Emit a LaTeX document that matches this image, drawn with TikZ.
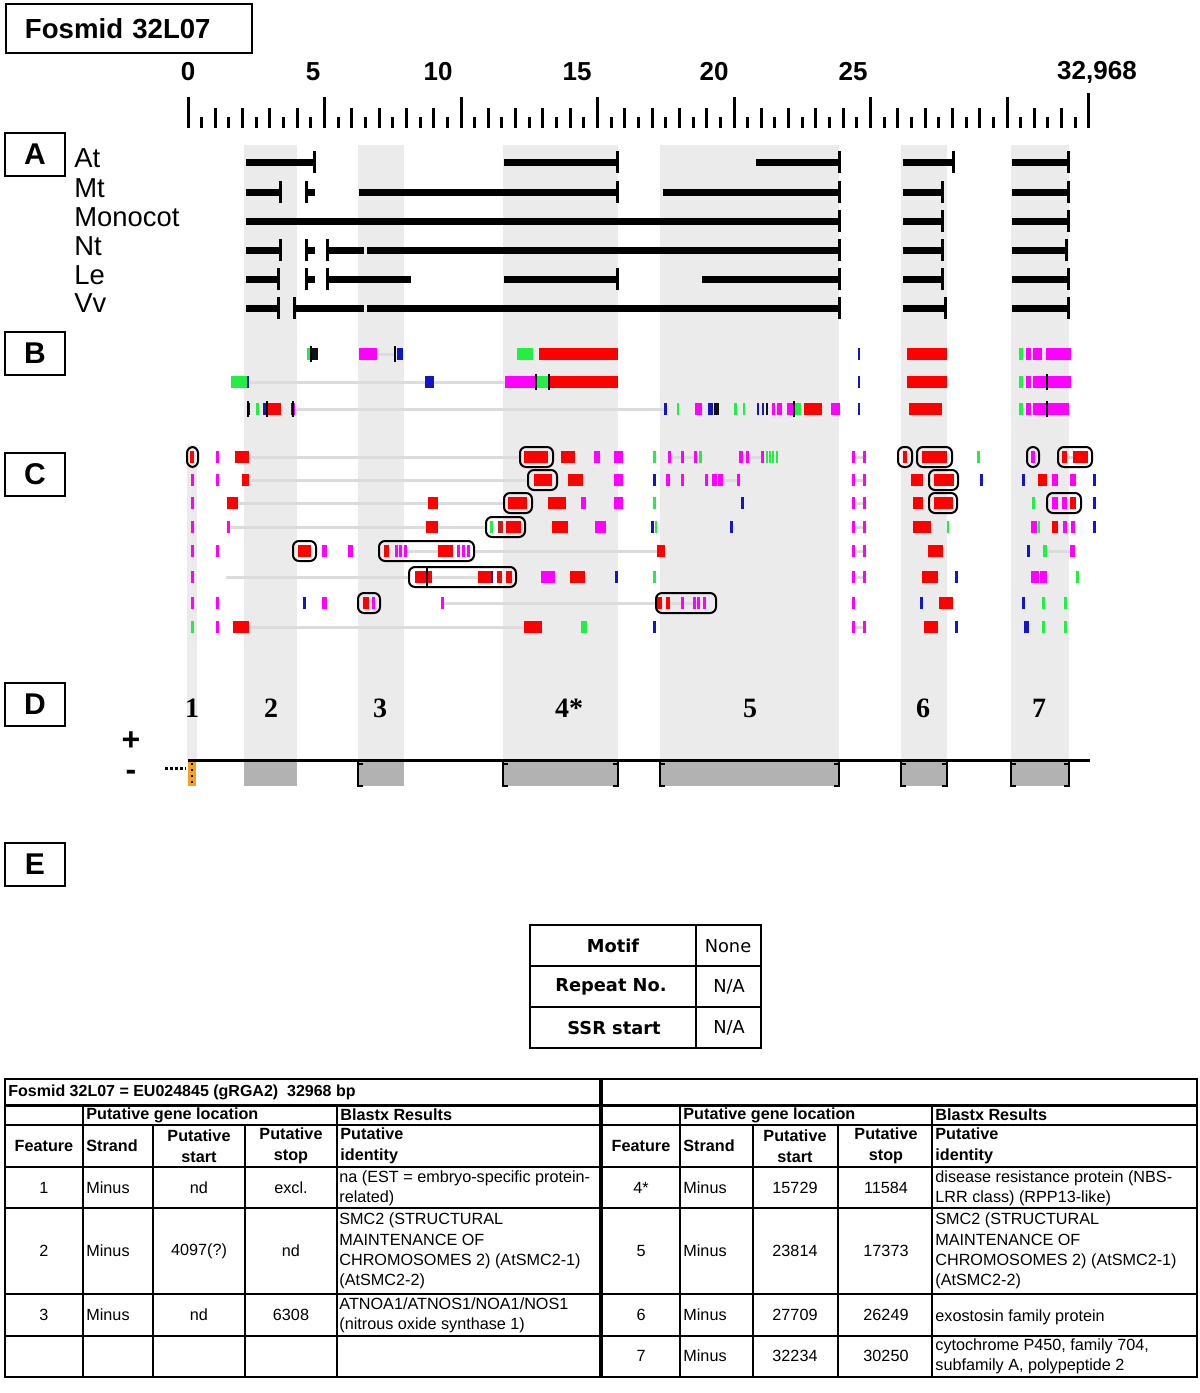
\documentclass[tikz,border=0pt]{standalone}
\usepackage{fontspec}
\setmainfont{Liberation Sans}
\newfontfamily\numfont{Liberation Serif}
\newfontfamily\motiffont{DejaVu Sans}
\usepackage{tikz}
\usetikzlibrary{positioning}

\definecolor{band}{HTML}{EBEBEB}
\definecolor{gene}{HTML}{B2B2B2}
\definecolor{linkgrey}{HTML}{DCDCDC}
\definecolor{rd}{HTML}{FF0000}
\definecolor{dr}{HTML}{C02020}
\definecolor{mg}{HTML}{FF00FF}
\definecolor{gn}{HTML}{22EE44}
\definecolor{bl}{HTML}{1414C8}
\definecolor{bk}{HTML}{101010}
\definecolor{est}{HTML}{F5A020}

% one row of coloured hits: y, list of colour/start/end
\newcommand{\hitrow}[2]{\foreach \col/\a/\b in {#2}{\fill[\col] (\a,#1-6) rectangle (\b,#1+6);}}
% one row of alignments: y, list of start/end, list of end caps
\newcommand{\alnrow}[3]{%
  \foreach \a/\b in {#2}{\fill (\a,#1-3.5) rectangle (\b,#1+3.5);}%
  \foreach \a in {#3}{\draw[line width=1.5pt] (\a,#1-11) -- (\a,#1+11);}}

\begin{document}
\begin{tikzpicture}[
  x=0.5pt, y=-0.5pt,
  font=\fontsize{8.1}{10.1}\selectfont,
  secbox/.style   = {draw, line width=1pt, minimum width=30pt, minimum height=21.5pt,
                     inner sep=0pt, font=\bfseries\fontsize{15}{15}\selectfont},
  species/.style  = {anchor=west, inner sep=0pt, font=\fontsize{13.7}{14}\selectfont},
  scalenum/.style = {inner sep=0pt, font=\bfseries\fontsize{13}{13}\selectfont},
  featnum/.style  = {inner sep=0pt, font=\numfont\bfseries\fontsize{14}{14}\selectfont},
  rulertick/.style= {line width=1.5pt},
  link/.style     = {draw=linkgrey, line width=1.5pt},
  hitbox/.style   = {draw, line width=1pt, rounded corners=3pt},
  genebrk/.style  = {line width=1pt},
  tabline/.style  = {line width=1pt},
  cell/.style     = {inner sep=0pt, align=center},
  lcell/.style    = {inner sep=0pt, align=left, anchor=west},
  thead/.style    = {font=\bfseries\fontsize{8.1}{10.5}\selectfont},
  motifb/.style   = {inner sep=0pt, font=\motiffont\bfseries\fontsize{8.9}{9}\selectfont},
  motifr/.style   = {inner sep=0pt, font=\motiffont\fontsize{8.9}{9}\selectfont}
]
\useasboundingbox (0,0) rectangle (1200,1393);

% Title and section letters
\node[draw, line width=1pt, anchor=north west, minimum height=24.5pt, text width=104pt,
      inner xsep=9.5pt, inner ysep=0pt, align=left,
      font=\bfseries\fontsize{13.8}{14}\selectfont] (title) at (5,3) {Fosmid 32L07};
\node[secbox] (secA) at (35,154.5) {A};
\node[secbox] (secB) at (35,353.5) {B};
\node[secbox] (secC) at (35,474.5) {C};
\node[secbox] (secD) at (35,704) {D};
\node[secbox] (secE) at (35,864) {E};

% Shaded gene regions
\foreach \a/\b in {244/297, 358/404, 503/618, 660/839, 901/947, 1011/1069}
  \fill[band] (\a,145) rectangle (\b,760);
\fill[band] (187,445) rectangle (197,760);

% Scale (kb)
\foreach \i in {0,...,65}{
  \pgfmathsetmacro\h{ifthenelse(mod(\i,10)==0,31,ifthenelse(mod(\i,2)==0,20,11))}
  \draw[rulertick] ({188+13.65*\i},128) -- ++(0,-\h);
}
\draw[rulertick] (1088,128) -- (1088,93);
\node[scalenum] (s0)   at (188,72)  {0};
\node[scalenum] (s5)   at (313,72)  {5};
\node[scalenum] (s10)  at (438,72)  {10};
\node[scalenum] (s15)  at (577,72)  {15};
\node[scalenum] (s20)  at (714,72)  {20};
\node[scalenum] (s25)  at (853,72)  {25};
\node[scalenum] (send) at (1097,72) {32,968};

% A: species alignments
\node[species] (at)  at (74,158) {At};
\node[species] (mt)  at (74,188) {Mt};
\node[species] (mon) at (74,217) {Monocot};
\node[species] (nt)  at (74,246) {Nt};
\node[species] (le)  at (74,275) {Le};
\node[species] (vv)  at (74,303) {Vv};
\alnrow{162}{246/314, 504/617, 756/839, 903/953, 1012/1068}{314, 617, 839, 953, 1068}
\alnrow{192}{246/280, 306/315, 359/617, 663/839, 903/942, 1012/1068}{280, 306, 617, 839, 942, 1068}
\alnrow{221}{246/839, 903/942, 1012/1068}{839, 942, 1068}
\alnrow{250}{246/280, 306/315, 327/364, 367/839, 903/942, 1012/1066}{280, 306, 327, 839, 942, 1066}
\alnrow{279}{246/278, 306/315, 327/411, 504/617, 702/839, 903/942, 1012/1068}{278, 306, 327, 617, 839, 942, 1068}
\alnrow{308}{246/278, 294/364, 367/839, 903/945, 1012/1068}{278, 294, 839, 945, 1068}

% B and C: links between hits
\foreach \a/\b/\y in {377/395/354, 248/505/382, 295/665/409,
    249/520/457, 669/695/457, 743/762/457, 853/864/457, 1067/1073/457,
    249/528/480, 718/738/480, 853/864/480,
    238/504/503, 853/864/503,
    228/486/527, 853/864/527,
    400/438/551, 474/657/551, 853/864/551, 1047/1070/551,
    226/409/577, 432/478/577, 853/864/577,
    443/657/603, 670/697/603,
    249/524/627, 853/864/627}
  \draw[link] (\a,\y) -- (\b,\y);

% B: hits
\hitrow{354}{gn/307/311, bk/311/318, mg/359/377, bl/397/403, gn/517/533, rd/539/618,
  bl/858/860, rd/907/947, gn/1019/1023, mg/1026/1031, mg/1033/1042, mg/1046/1071}
\hitrow{382}{gn/231/247, bl/247/249, bl/425/434, mg/505/536, gn/536/549, rd/549/618,
  bl/858/860, rd/907/947, gn/1019/1023, mg/1026/1031, mg/1033/1071}
\hitrow{409}{bk/247/250, gn/256/259, bl/263/267, rd/267/281, bl/291/293, mg/293/295,
  bl/664/667, gn/677/679, mg/695/702, bl/708/713, bk/714/719, gn/734/737, gn/743/745,
  bl/757/759, bl/762/764, bk/766/768, mg/772/775, mg/777/782, mg/787/793, gn/794/801,
  rd/804/822, mg/831/840, bl/858/860, rd/909/942, gn/1019/1023, mg/1026/1031, mg/1033/1069}
\foreach \a/\y in {311/354, 395/354, 536/382, 549/382, 1047/382,
                   248/409, 267/409, 293/409, 794/409, 1047/409}
  \draw[line width=1pt] (\a,\y-8) -- (\a,\y+8);

% C: hits
\hitrow{457}{rd/190/194, mg/216/219, rd/235/249, rd/524/548, rd/561/575, mg/594/600,
  mg/614/623, gn/653/656, mg/668/670.5, mg/681/683.5, mg/694/696.5, gn/699/701.5,
  mg/739/743, mg/746/749, mg/761/763.5, gn/766/768, gn/769/771, gn/772/774, gn/776/778,
  mg/852/854.5, mg/863/865.5, rd/903/907, rd/922/947, gn/977/980, mg/1031/1035,
  rd/1062/1067, rd/1073/1088}
\hitrow{480}{mg/191/194, mg/216/219, rd/242/249, rd/534/552, rd/568/583, mg/614/623,
  bl/653/655.5, mg/666/670, mg/681/683.5, mg/705/707.5, mg/712/717, mg/718/723,
  mg/737/739.5, mg/852/854.5, mg/863/865.5, rd/911/923, rd/934/954, bl/980/982.5,
  bl/1022/1024.5, rd/1038/1047, mg/1052/1058, mg/1070/1076, bl/1093/1095.5}
\hitrow{503}{mg/191/194, rd/227/238, rd/428/438, rd/508/527, rd/548/566, mg/581/586,
  mg/614/623, gn/653/655.5, bl/741/743.5, mg/852/854.5, mg/863/865.5, rd/913/923,
  rd/934/953, gn/1032/1035, mg/1052/1058, mg/1062/1067, rd/1070/1076, bl/1093/1095.5}
\hitrow{527}{mg/191/194, mg/227/229.5, rd/426/438, gn/490/493, dr/498/503, rd/506/521,
  rd/552/568, mg/595/606, bl/651/653.5, gn/655/657, bl/730/732.5, mg/852/854.5,
  mg/863/865.5, rd/913/931, gn/947/949, mg/1031/1037, gn/1038/1040, rd/1052/1058,
  mg/1063/1067, mg/1071/1075, bl/1093/1095.5}
\hitrow{551}{mg/191/194, mg/216/219, rd/298/311, mg/322/327, mg/348/353, rd/384/389,
  mg/395/397.5, mg/399/401.5, mg/404/406.5, rd/438/453, mg/457/459.5, mg/462/464.5,
  mg/467/469.5, rd/657/665, mg/852/854.5, mg/863/865.5, rd/928/943, bl/1027/1029.5,
  gn/1043/1047, mg/1070/1075}
\hitrow{577}{mg/191/194, rd/415/432, rd/478/493, bl/491/493, rd/497/502, rd/506/512,
  mg/541/555, rd/570/585, bl/615/617.5, gn/653/655.5, mg/852/854.5, mg/863/865.5,
  rd/922/938, bl/955/957.5, mg/1031/1039, mg/1040/1047, gn/1076/1078.5}
\hitrow{603}{mg/191/194, mg/216/219, bl/303/305.5, mg/322/327, rd/363/369, mg/372/375,
  mg/441/444, rd/657/662, rd/666/670, mg/681/683.5, mg/693/695.5, mg/697/700,
  mg/703/706, mg/852/854.5, bl/920/923, rd/939/953, bl/1022/1024.5, gn/1042/1045,
  gn/1064/1067}
\hitrow{627}{gn/191/193.5, mg/216/219, rd/233/249, rd/524/542, gn/581/587, bl/653/655.5,
  mg/852/854.5, mg/863/865.5, rd/924/938, bl/955/957.5, bl/1024/1029, gn/1042/1045,
  gn/1064/1067}
\draw[line width=1pt] (427,567) -- (427,587);

% C: boxed hits
\foreach \a/\b/\y in {187/198/457, 520/553/457, 898/912/457, 917/952/457, 1027/1039/457,
    1058/1092/457, 528/557/480, 929/958/480, 504/532/503, 929/957/503, 1047/1081/503,
    486/525/527, 293/316/551, 379/474/551, 409/516/577, 358/380/603, 656/716/603}
  \draw[hitbox] (\a,\y-10) rectangle (\b,\y+10);

% D: features and strand
\node[featnum] (f1) at (192,708)  {1};
\node[featnum] (f2) at (271,708)  {2};
\node[featnum] (f3) at (380,708)  {3};
\node[featnum] (f4) at (569,708)  {4*};
\node[featnum] (f5) at (750,708)  {5};
\node[featnum] (f6) at (923,708)  {6};
\node[featnum] (f7) at (1039,708) {7};
\node[inner sep=0pt, font=\bfseries\fontsize{16}{16}\selectfont] (plus)  at (131,741) {+};
\node[inner sep=0pt, font=\bfseries\fontsize{16}{16}\selectfont] (minus) at (131,775) {-};
\foreach \a/\b in {244/297, 358/404, 503/618, 660/839, 901/947, 1011/1069}
  \fill[gene] (\a,762) rectangle (\b,786);
\foreach \a in {358, 503, 660, 901, 1011}{
  \draw[genebrk] (\a+5,786) -- (\a,786) -- (\a,760);
  \draw[genebrk] (\a,764) -- (\a+5,764);
}
\foreach \a in {618, 839, 947, 1069}{
  \draw[genebrk] (\a-5,786) -- (\a,786) -- (\a,760);
  \draw[genebrk] (\a,764) -- (\a-5,764);
}
\fill[est] (188,762) rectangle (196,786);
\draw[dotted, line width=1pt] (192,763) -- (192,786);
\draw[densely dotted, line width=1.5pt] (165,768) -- (186,768);
\draw[line width=1.5pt] (188,760) -- (1090,760);

% E: SSR table
\draw[tabline] (530,925) rectangle (761,1048);
\draw[tabline] (530,966) -- (761,966);
\draw[tabline] (530,1007) -- (761,1007);
\draw[tabline] (696,925) -- (696,1048);
\node[motifb] (motif)  at (613,946)  {Motif};
\node[motifb] (repno)  at (611,987)  {Repeat No.};
\node[motifb] (ssr)    at (614,1028) {SSR start};
\node[motifr] (none)   at (728,946)  {None};
\node[motifr] (repna)  at (729,987)  {N/A};
\node[motifr] (ssrna)  at (729,1028) {N/A};

% Feature table
\draw[tabline] (5,1079) rectangle (600,1377);
\draw[tabline] (602,1079) rectangle (1197,1377);
\draw[line width=1.5pt] (5,1105) -- (600,1105);
\draw[line width=1.5pt] (602,1105) -- (1197,1105);
\foreach \y in {1125, 1167, 1208, 1294, 1336}{
  \draw[tabline] (5,\y) -- (600,\y);
  \draw[tabline] (602,\y) -- (1197,\y);
}
\foreach \x in {83, 337, 680, 932} \draw[tabline] (\x,1105) -- (\x,1377);
\foreach \x in {153, 245, 753, 838} \draw[tabline] (\x,1125) -- (\x,1377);

% left half
\node[lcell, font=\bfseries\fontsize{8}{10}\selectfont] (ltitle) at (8,1092)
  {Fosmid 32L07 = EU024845 (gRGA2)\ \ 32968 bp};
\node[lcell, thead] (lloc)   at (86,1115)  {Putative gene location};
\node[lcell, thead] (lblast) at (340,1115) {Blastx Results};
\node[cell, thead]  (lfeat)  at (44,1146)  {Feature};
\node[lcell, thead] (lstr)   at (86,1146)  {Strand};
\node[cell, thead]  (lstart) at (199,1146) {Putative\\start};
\node[cell, thead]  (lstop)  at (291,1146) {Putative\\stop};
\node[lcell, thead] (lid)    at (340,1146) {Putative\\identity};
\node[cell]  (lf1) at (44,1188)  {1};
\node[lcell] (ls1) at (86,1188)  {Minus};
\node[cell]  (lb1) at (199,1188) {nd};
\node[cell]  (le1) at (291,1188) {excl.};
\node[lcell] (li1) at (339,1188) {na (EST = embryo-specific protein-\\related)};
\node[cell]  (lf2) at (44,1251)  {2};
\node[lcell] (ls2) at (86,1251)  {Minus};
\node[cell]  (lb2) at (199,1251) {4097(?)};
\node[cell]  (le2) at (291,1251) {nd};
\node[lcell] (li2) at (339,1251) {SMC2 (STRUCTURAL\\MAINTENANCE OF\\CHROMOSOMES 2) (AtSMC2-1)\\(AtSMC2-2)};
\node[cell]  (lf3) at (44,1315)  {3};
\node[lcell] (ls3) at (86,1315)  {Minus};
\node[cell]  (lb3) at (199,1315) {nd};
\node[cell]  (le3) at (291,1315) {6308};
\node[lcell] (li3) at (339,1315) {ATNOA1/ATNOS1/NOA1/NOS1\\(nitrous oxide synthase 1)};

% right half
\node[lcell, thead] (rloc)   at (683,1115) {Putative gene location};
\node[lcell, thead] (rblast) at (935,1115) {Blastx Results};
\node[cell, thead]  (rfeat)  at (641,1146) {Feature};
\node[lcell, thead] (rstr)   at (683,1146) {Strand};
\node[cell, thead]  (rstart) at (795,1146) {Putative\\start};
\node[cell, thead]  (rstop)  at (886,1146) {Putative\\stop};
\node[lcell, thead] (rid)    at (935,1146) {Putative\\identity};
\node[cell]  (rf4) at (641,1188) {4*};
\node[lcell] (rs4) at (683,1188) {Minus};
\node[cell]  (rb4) at (795,1188) {15729};
\node[cell]  (re4) at (886,1188) {11584};
\node[lcell] (ri4) at (935,1188) {disease resistance protein (NBS-\\LRR class) (RPP13-like)};
\node[cell]  (rf5) at (641,1251) {5};
\node[lcell] (rs5) at (683,1251) {Minus};
\node[cell]  (rb5) at (795,1251) {23814};
\node[cell]  (re5) at (886,1251) {17373};
\node[lcell] (ri5) at (935,1251) {SMC2 (STRUCTURAL\\MAINTENANCE OF\\CHROMOSOMES 2) (AtSMC2-1)\\(AtSMC2-2)};
\node[cell]  (rf6) at (641,1315) {6};
\node[lcell] (rs6) at (683,1315) {Minus};
\node[cell]  (rb6) at (795,1315) {27709};
\node[cell]  (re6) at (886,1315) {26249};
\node[lcell] (ri6) at (935,1317) {exostosin family protein};
\node[cell]  (rf7) at (641,1356) {7};
\node[lcell] (rs7) at (683,1356) {Minus};
\node[cell]  (rb7) at (795,1356) {32234};
\node[cell]  (re7) at (886,1356) {30250};
\node[lcell] (ri7) at (935,1356) {cytochrome P450, family 704,\\subfamily A, polypeptide 2};
\end{tikzpicture}
\end{document}
